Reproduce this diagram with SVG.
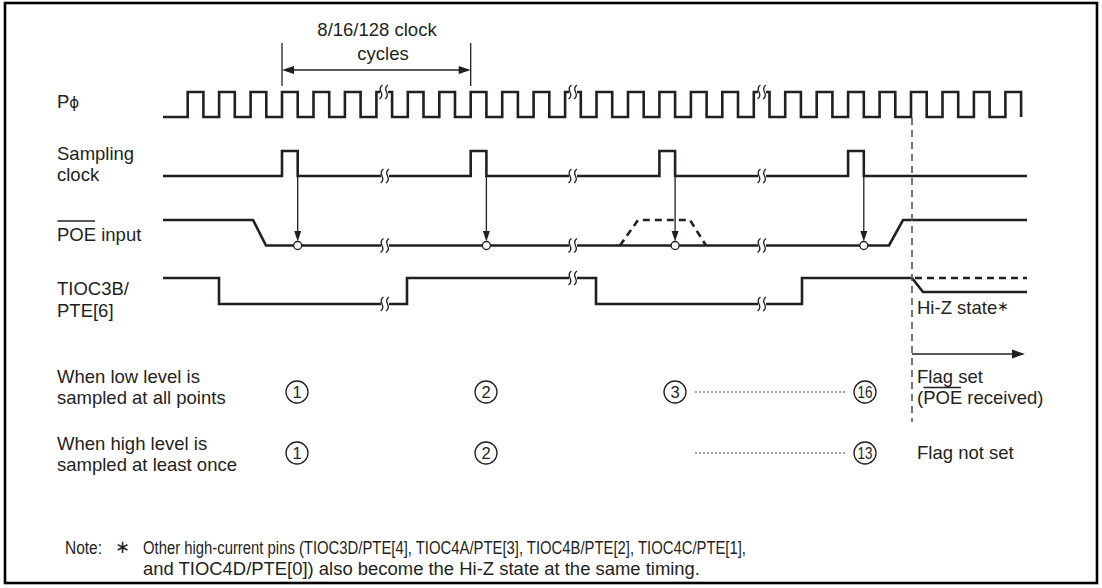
<svg xmlns="http://www.w3.org/2000/svg" width="1102" height="588" viewBox="0 0 1102 588">
<style>
text{font-family:"Liberation Sans",Arial,sans-serif;font-size:18.5px;fill:#231f20}
text.note{font-size:17.5px}
text.num{font-size:16.5px;text-anchor:middle}
.wave{fill:none;stroke:#231f20;stroke-width:2.6;stroke-linejoin:miter}
.dwave{fill:none;stroke:#231f20;stroke-width:2.6;stroke-dasharray:7,5}
.thin{fill:none;stroke:#231f20;stroke-width:1.3}
.ah{fill:#231f20;stroke:none}
.vdash{fill:none;stroke:#555;stroke-width:1.6;stroke-dasharray:7,5}
.dot{fill:none;stroke:#444;stroke-width:1.2;stroke-dasharray:2,2}
.cn{fill:#fff;stroke:#231f20;stroke-width:1.3}
.samp{fill:#fff;stroke:#231f20;stroke-width:1.3}
</style>
<defs>
<g id="brk">
<rect x="-4" y="-3" width="8" height="6" fill="#fff"/>
<path d="M-1.5,-7 C-4.5,-5 -4,-2 -3,0 C-2,2 -1.5,5 -4.5,7" fill="none" stroke="#231f20" stroke-width="1.3"/>
<path d="M4,-7 C1,-5 1.5,-2 2.5,0 C3.5,2 4,5 1,7" fill="none" stroke="#231f20" stroke-width="1.3"/>
</g>
</defs>
<rect x="5" y="3" width="1092" height="580" fill="none" stroke="#000" stroke-width="2.6"/>

<g id="dimension">
<line class="thin" x1="282" y1="43" x2="282" y2="86"/>
<line class="thin" x1="470.7" y1="43" x2="470.7" y2="86"/>
<line class="thin" x1="290" y1="70" x2="463" y2="70"/>
<polygon class="ah" points="282,70 294,66 294,74"/>
<polygon class="ah" points="470.7,70 458.7,66 458.7,74"/>
<text x="377" y="36" text-anchor="middle">8/16/128 clock</text>
<text x="383" y="60" text-anchor="middle">cycles</text>
</g>

<g id="labels">
<text x="57" y="108">P<tspan font-family="DejaVu Sans" font-size="15">ϕ</tspan></text>
<text x="57" y="160">Sampling</text>
<text x="57" y="181">clock</text>
<text x="57" y="241">POE input</text>
<line x1="57.5" y1="221" x2="95" y2="221" stroke="#231f20" stroke-width="1.3"/>
<text x="57" y="295">TIOC3B/</text>
<text x="57" y="317">PTE[6]</text>
<text x="57" y="383">When low level is</text>
<text x="57" y="404">sampled at all points</text>
<text x="57" y="450">When high level is</text>
<text x="57" y="471">sampled at least once</text>
</g>

<g id="clock">
<path class="wave" d="M163,117 H187.7 V92 H203.4 V117 H219.1 V92 H234.8 V117 H250.6 V92 H266.3 V117 H282 V92 H297.7 V117 H313.5 V92 H329.2 V117 H344.9 V92 H360.6 V117 H376.4 V92 H392.1 V117 H407.8 V92 H423.5 V117 H439.3 V92 H455 V117 H470.7 V92 H486.4 V117 H502.2 V92 H517.9 V117 H533.6 V92 H549.3 V117 H565.1 V92 H580.8 V117 H596.5 V92 H612.2 V117 H628 V92 H643.7 V117 H659.4 V92 H675.1 V117 H690.9 V92 H706.6 V117 H722.3 V92 H738 V117 H753.8 V92 H769.5 V117 H785.2 V92 H800.9 V117 H816.7 V92 H832.4 V117 H848.1 V92 H863.8 V117 H879.6 V92 H895.3 V117 H911 V92 H926.7 V117 H942.5 V92 H958.2 V117 H973.9 V92 H989.6 V117 H1005.4 V92 H1021.1 V117"/>
<use href="#brk" x="384" y="92"/>
<use href="#brk" x="573" y="92"/>
<use href="#brk" x="762" y="92"/>
</g>

<g id="sampling-clock">
<path class="wave" d="M163,176 H282 V151 H297.7 V176 H470.7 V151 H486.4 V176 H659.4 V151 H675.1 V176 H848.1 V151 H863.8 V176 H1027"/>
<use href="#brk" x="385" y="176"/>
<use href="#brk" x="573" y="176"/>
<use href="#brk" x="762" y="176"/>
</g>

<g id="poe-input">
<path class="wave" d="M163,220 H253 L266,245.5 H889 L903,220 H1027"/>
<path class="dwave" d="M620,245.5 L638,220 H690 L706,245.5"/>
<use href="#brk" x="385" y="245.5"/>
<use href="#brk" x="573" y="245.5"/>
<use href="#brk" x="762" y="245.5"/>
</g>

<g id="tioc3b">
<path class="wave" d="M163,278 H219 V304 H407 V278 H596 V304 H802 V278 H912 L923,292 H1027"/>
<path class="dwave" d="M915,278 H1027"/>
<use href="#brk" x="385" y="304"/>
<use href="#brk" x="573" y="278"/>
<use href="#brk" x="762" y="304"/>
<text x="917" y="314">Hi-Z state<tspan font-family="DejaVu Sans" font-size="14" dy="-3">∗</tspan></text>
</g>

<g id="connectors">
<line class="thin" x1="297.7" y1="176" x2="297.7" y2="233"/>
<polygon class="ah" points="297.7,241.5 294.2,231 301.2,231"/>
<line class="thin" x1="486.4" y1="176" x2="486.4" y2="233"/>
<polygon class="ah" points="486.4,241.5 482.9,231 489.9,231"/>
<line class="thin" x1="675.1" y1="176" x2="675.1" y2="233"/>
<polygon class="ah" points="675.1,241.5 671.6,231 678.6,231"/>
<line class="thin" x1="863.8" y1="176" x2="863.8" y2="233"/>
<polygon class="ah" points="863.8,241.5 860.3,231 867.3,231"/>
<circle class="samp" cx="297.7" cy="245.5" r="4"/>
<circle class="samp" cx="486.4" cy="245.5" r="4"/>
<circle class="samp" cx="675.1" cy="245.5" r="4"/>
<circle class="samp" cx="863.8" cy="245.5" r="4"/>
<line class="vdash" x1="912" y1="118" x2="912" y2="422"/>
<line class="thin" x1="912" y1="354" x2="1014" y2="354"/>
<polygon class="ah" points="1025,354 1012,349.5 1012,358.5"/>
<line class="dot" x1="695" y1="392" x2="845" y2="392"/>
<line class="dot" x1="695" y1="453" x2="845" y2="453"/>
</g>

<g id="flag">
<text x="917" y="383">Flag set</text>
<text x="917" y="404">(POE received)</text>
<line x1="923.5" y1="387.5" x2="961" y2="387.5" stroke="#231f20" stroke-width="1.3"/>
<text x="917" y="459">Flag not set</text>
</g>

<g id="count-low">
<circle class="cn" cx="297" cy="392" r="11"/><text class="num" x="297" y="398">1</text>
<circle class="cn" cx="486" cy="392" r="11"/><text class="num" x="486" y="398">2</text>
<circle class="cn" cx="675" cy="392" r="11"/><text class="num" x="675" y="398">3</text>
<circle class="cn" cx="865" cy="392" r="11"/><text class="num" x="865" y="398" textLength="15" lengthAdjust="spacingAndGlyphs">16</text>
</g>
<g id="count-high">
<circle class="cn" cx="297" cy="453" r="11"/><text class="num" x="297" y="459">1</text>
<circle class="cn" cx="486" cy="453" r="11"/><text class="num" x="486" y="459">2</text>
<circle class="cn" cx="865" cy="453" r="11"/><text class="num" x="865" y="459" textLength="15" lengthAdjust="spacingAndGlyphs">13</text>
</g>

<g id="note">
<text class="note" x="65" y="554" textLength="37" lengthAdjust="spacingAndGlyphs">Note:</text>
<text class="note" x="115" y="553" font-family="DejaVu Sans">∗</text>
<text class="note" x="143" y="554" textLength="603" lengthAdjust="spacingAndGlyphs">Other high-current pins (TIOC3D/PTE[4], TIOC4A/PTE[3], TIOC4B/PTE[2], TIOC4C/PTE[1],</text>
<text class="note" x="143" y="575" textLength="557" lengthAdjust="spacingAndGlyphs">and TIOC4D/PTE[0]) also become the Hi-Z state at the same timing.</text>
</g>
</svg>
